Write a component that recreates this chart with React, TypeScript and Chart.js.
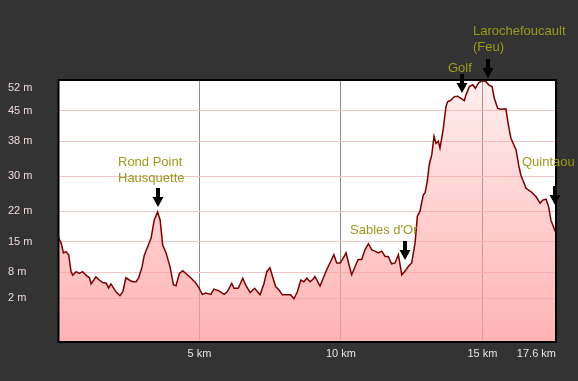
import React, { useEffect, useRef } from 'react';
import { Chart, registerables } from 'chart.js';

Chart.register(...registerables);

const distanceKm = [
  0, 0.11, 0.19, 0.28, 0.38, 0.46, 0.52, 0.64, 0.75, 0.87,
  0.99, 1.11, 1.17, 1.34, 1.46, 1.58, 1.70, 1.79, 1.87, 2.05,
  2.19, 2.29, 2.40, 2.52, 2.64, 2.76, 2.85, 2.97, 3.05, 3.17,
  3.29, 3.40, 3.52, 3.61, 3.70, 3.82, 3.96, 4.08, 4.17, 4.29,
  4.41, 4.52, 4.69, 4.87, 4.98, 5.10, 5.22, 5.40, 5.51, 5.69,
  5.87, 5.98, 6.14, 6.22, 6.37, 6.53, 6.63, 6.79, 6.95, 7.14,
  7.28, 7.38, 7.49, 7.57, 7.69, 7.81, 7.93, 8.10, 8.22, 8.34,
  8.46, 8.58, 8.69, 8.79, 8.91, 9.02, 9.08, 9.26, 9.38, 9.50,
  9.61, 9.75, 9.85, 9.97, 10.08, 10.18, 10.30, 10.38, 10.50, 10.61,
  10.73, 10.85, 10.97, 11.09, 11.20, 11.32, 11.44, 11.56, 11.67, 11.79,
  11.91, 12.03, 12.15, 12.26, 12.38, 12.50, 12.62, 12.70, 12.79, 12.91,
  12.97, 13.05, 13.12, 13.21, 13.29, 13.36, 13.44, 13.50, 13.61, 13.71,
  13.77, 13.89, 14.01, 14.13, 14.24, 14.36, 14.42, 14.54, 14.66, 14.75,
  14.87, 15.01, 15.13, 15.22, 15.34, 15.42, 15.54, 15.66, 15.83, 15.89,
  15.95, 16.01, 16.19, 16.28, 16.36, 16.45, 16.54, 16.72, 16.89, 17.04,
  17.13, 17.25, 17.34, 17.42, 17.51, 17.60,
];

const elevationM = [
  16.1, 14.7, 12.4, 12.7, 11.9, 8.1, 7.3, 8.1, 7.7, 8.1,
  7.3, 6.7, 5.3, 6.9, 6.2, 5.6, 5.5, 4.4, 5.3, 3.5,
  2.6, 3.5, 6.7, 6.2, 5.8, 5.8, 6.7, 9.2, 11.9, 13.8,
  15.8, 19.9, 21.8, 19.9, 14.2, 12.4, 9.2, 5.1, 4.9, 7.7,
  8.3, 7.7, 6.7, 5.5, 4.4, 2.9, 3.2, 2.9, 4.1, 3.7,
  2.9, 3.5, 5.4, 4.3, 4.3, 6.6, 5.1, 3.3, 4.3, 2.8,
  5.4, 8.1, 9.0, 7.3, 4.7, 3.9, 2.8, 2.8, 2.8, 1.9,
  3.5, 6.2, 5.8, 6.6, 5.8, 6.4, 7.0, 4.8, 6.7, 8.6,
  10.1, 12.0, 10.1, 10.1, 11.2, 12.4, 9.3, 7.4, 9.3, 10.9,
  10.9, 13.1, 14.5, 13.1, 12.8, 12.4, 12.8, 11.6, 11.6, 9.9,
  10.1, 12.0, 7.4, 8.2, 9.3, 10.1, 14.7, 20.8, 21.9, 25.7,
  26.1, 28.8, 32.6, 34.9, 39.1, 37.5, 38.0, 36.4, 40.5, 45.9,
  47.0, 47.4, 48.2, 48.3, 47.8, 47.3, 48.6, 50.5, 50.9, 50.1,
  51.4, 51.8, 51.6, 50.9, 50.5, 47.8, 45.5, 45.3, 45.4, 42.8,
  40.5, 38.6, 36.0, 32.5, 30.2, 28.7, 27.2, 26.4, 25.3, 23.8,
  24.5, 24.7, 23.0, 19.9, 18.4, 16.9,
];

const yTickValues = [52, 45, 38, 30, 22, 15, 8, 2];
const xTickValues = [0, 5, 10, 15, 17.6];
const xTickLabels = ['', '5 km', '10 km', '15 km', '17.6 km'];

const landmarkNames = [
  ['Rond Point', 'Hausquette'],
  ["Sables d'Or"],
  ['Golf'],
  ['Larochefoucault', '(Feu)'],
  ['Quintaou'],
];
const landmarkKm = [3.53, 12.26, 14.27, 15.2, 17.57];
const landmarkMarkerM = [22.9, 10.8, 49.0, 52.5, 23.4];

// label placement relative to the arrow (layout only)
const labelLayout = [
  { dx: -40, dy: -10 },
  { dx: -55, dy: -10.5 },
  { dx: -14, dy: -6 },
  { dx: -15, dy: -12 },
  { dx: -33, dy: -23.5 },
];

const FONT = '"Liberation Sans", Arial, Helvetica, sans-serif';

const framePlugin = {
  id: 'frame',
  beforeDraw(chart: any) {
    const { ctx, chartArea } = chart;
    ctx.save();
    ctx.fillStyle = '#ffffff';
    ctx.fillRect(chartArea.left, chartArea.top, chartArea.right - chartArea.left, chartArea.bottom - chartArea.top);
    ctx.restore();
    const ys = chart.scales.y;
    const items = ys.getLabelItems ? ys.getLabelItems() : [];
    items.forEach((it: any) => {
      if (it.label === '52 m' && !it.__shifted) {
        it.options.translation[1] += 8;
        it.__shifted = true;
      }
    });
  },
  afterDatasetsDraw(chart: any) {
    const { ctx, chartArea } = chart;
    ctx.save();
    ctx.strokeStyle = '#000';
    ctx.lineWidth = 2;
    ctx.strokeRect(chartArea.left + 0.5, chartArea.top, chartArea.right - chartArea.left - 0.5, chartArea.bottom - chartArea.top);
    ctx.restore();
  },
  afterDraw(chart: any) {
    const { ctx } = chart;
    const xs = chart.scales.x;
    const ys = chart.scales.y;
    ctx.save();
    landmarkNames.forEach((lines, i) => {
      const x = Math.round(xs.getPixelForValue(landmarkKm[i]));
      const tip = Math.round(ys.getPixelForValue(landmarkMarkerM[i]));
      const len = 19;
      const headH = 10;
      const headW = 11;
      const shaftW = 4;
      ctx.fillStyle = '#000';
      ctx.fillRect(x - shaftW / 2, tip - len, shaftW, len - headH + 1);
      ctx.beginPath();
      ctx.moveTo(x - headW / 2, tip - headH);
      ctx.lineTo(x + headW / 2, tip - headH);
      ctx.lineTo(x, tip);
      ctx.closePath();
      ctx.fill();

      ctx.font = '13px ' + FONT;
      ctx.fillStyle = '#9a9a1c';
      ctx.textAlign = 'left';
      ctx.textBaseline = 'middle';
      const lay = labelLayout[i];
      const lastY = tip - len + lay.dy;
      lines.forEach((t, j) => {
        const yy = lastY - (lines.length - 1 - j) * 15.5;
        ctx.fillText(t, x + lay.dx, yy);
      });
    });
    ctx.restore();
  },
};

export default function App() {
  const canvasRef = useRef<HTMLCanvasElement | null>(null);

  useEffect(() => {
    document.body.style.margin = '0';
    const canvas = canvasRef.current;
    if (!canvas) return;
    const data = distanceKm.map((d, i) => ({ x: d, y: elevationM[i] }));

    const chart = new Chart(canvas, {
      type: 'line',
      data: {
        datasets: [
          {
            data,
            borderColor: '#7a0000',
            borderWidth: 1.5,
            pointRadius: 0,
            tension: 0,
            fill: 'start',
            backgroundColor: (context: any) => {
              const c = context.chart;
              const area = c.chartArea;
              if (!area) return 'rgba(255,160,160,0.5)';
              const g = c.ctx.createLinearGradient(0, area.top, 0, area.bottom);
              g.addColorStop(0, 'rgba(255,160,160,0.18)');
              g.addColorStop(1, 'rgba(255,160,160,0.8)');
              return g;
            },
          },
        ],
      },
      options: {
        responsive: false,
        animation: false,
        layout: { padding: { left: 8, top: 80, right: 22, bottom: 0 } },
        plugins: {
          legend: { display: false },
          tooltip: { enabled: false },
        },
        scales: {
          x: {
            type: 'linear',
            min: 0,
            max: 17.6,
            afterBuildTicks: (scale: any) => {
              scale.ticks = xTickValues.map((v) => ({ value: v }));
            },
            afterFit: (scale: any) => {
              scale.height = 39;
            },
            ticks: {
              align: 'inner',
              maxRotation: 0,
              autoSkip: false,
              padding: 5,
              color: '#e4e4e4',
              font: { family: FONT, size: 11 },
              callback: (v: any) => {
                const idx = xTickValues.indexOf(Number(v));
                return idx >= 0 ? xTickLabels[idx] : '';
              },
            },
            grid: { color: '#8c8c8c', lineWidth: 1, drawTicks: false },
            border: { display: false },
          },
          y: {
            type: 'linear',
            min: -8,
            max: 52,
            afterBuildTicks: (scale: any) => {
              scale.ticks = yTickValues.map((v) => ({ value: v }));
            },
            afterFit: (scale: any) => {
              scale.width = 50;
            },
            ticks: {
              crossAlign: 'far',
              autoSkip: false,
              color: '#eed8d8',
              font: { family: FONT, size: 11 },
              callback: (v: any) => `${v} m`,
            },
            grid: { color: '#f0c6c6', lineWidth: 1, drawTicks: false },
            border: { display: false },
          },
        },
      },
      plugins: [framePlugin],
    });

    return () => chart.destroy();
  }, []);

  return (
    <div style={{ position: 'absolute', left: 0, top: 0, width: 578, height: 381, background: '#333333' }}>
      <canvas ref={canvasRef} width={578} height={381} style={{ display: 'block' }} />
    </div>
  );
}
